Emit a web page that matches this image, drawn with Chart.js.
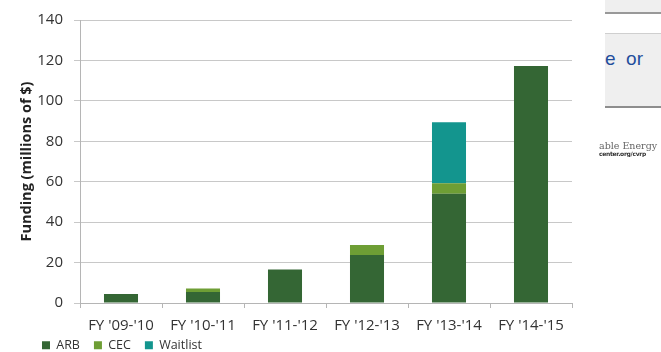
<!DOCTYPE html>
<html>
<head>
<meta charset="utf-8">
<script src="https://cdn.jsdelivr.net/npm/chart.js@4/dist/chart.umd.min.js"></script>
<style>
  html, body { margin: 0; padding: 0; background: #fff; }
  #wrap { position: relative; width: 661px; height: 352px; overflow: hidden; }
  #chartBox { position: absolute; left: 0; top: 0; width: 600px; height: 352px; }
  .panel { position: absolute; left: 605px; width: 56px; background: #efefef; overflow: hidden; }
  #p1 { top: 0; height: 12px; border-bottom: 2px solid #999; }
  #p2 { top: 33px; height: 72px; border-top: 1px solid #cfcfcf; border-bottom: 2px solid #8e8e8e; }
  #p2 span { position: absolute; left: 0; top: 14px; font: 19px "Liberation Sans", Arial, sans-serif; color: #1f4e9c; white-space: nowrap; }
  .note { position: absolute; left: 599px; width: 62px; overflow: hidden; white-space: nowrap; }
  #n1 { top: 140px; font: 9.5px "DejaVu Serif", serif; color: #666; }
  #n2 { top: 150px; font: bold 6px "DejaVu Sans", sans-serif; color: #333; letter-spacing: -0.3px; }
</style>
</head>
<body>
<div id="wrap">
  <div id="chartBox"><canvas id="c"></canvas></div>
  <div class="panel" id="p1"></div>
  <div class="panel" id="p2"><span>e&nbsp; or</span></div>
  <div class="note" id="n1">able Energy</div>
  <div class="note" id="n2">center.org/cvrp</div>
</div>
<script>
// Funding per fiscal year, millions of dollars
const categories = ["FY '09-'10", "FY '10-'11", "FY '11-'12", "FY '12-'13", "FY '13-'14", "FY '14-'15"];
const arb      = [4.4, 5.4, 16.6, 23.8, 54.0, 117.3];
const cec      = [0,   1.8, 0,    4.9,  5.3,  0];
const waitlist = [0,   0,   0,    0,    30.1, 0];
const yTicks   = [0, 20, 40, 60, 80, 100, 120, 140];

const font = '"Open Sans", "Noto Sans", sans-serif';

// Place the legend row under the axis labels, indented from the left edge
const legendPlacer = {
  id: 'legendPlacer',
  afterLayout(chart) {
    const lg = chart.legend;
    const h = lg.bottom - lg.top;
    const w = lg.right - lg.left;
    lg.left = 28; lg.right = lg.left + w;
    lg.top = 325; lg.bottom = lg.top + h;
  }
};

new Chart(document.getElementById('c'), {
  type: 'bar',
  data: {
    labels: categories,
    datasets: [
      { label: 'ARB', data: arb, backgroundColor: '#346634' },
      { label: 'CEC', data: cec, backgroundColor: '#6e9e35' },
      { label: 'Waitlist', data: waitlist, backgroundColor: '#13958e' }
    ]
  },
  plugins: [legendPlacer],
  options: {
    responsive: true,
    maintainAspectRatio: false,
    animation: false,
    datasets: { bar: { categoryPercentage: 1, barPercentage: 0.415 } },
    layout: { padding: { left: 0, right: 28, top: 19, bottom: -19.5 } },
    plugins: {
      tooltip: { enabled: false },
      legend: {
        position: 'bottom',
        align: 'start',
        labels: {
          boxWidth: 8, boxHeight: 8, padding: 14,
          color: '#333', font: { family: font, size: 12.5 }
        }
      }
    },
    scales: {
      x: {
        stacked: true,
        offset: true,
        afterFit: (s) => { s.height = 32; },
        grid: { offset: true, drawOnChartArea: false, color: '#b5b5b5', tickLength: 5 },
        border: { color: '#b5b5b5' },
        ticks: { color: '#333', padding: 9, maxRotation: 0, font: { family: font, size: 15 } }
      },
      y: {
        stacked: true,
        min: 0, max: 140,
        afterFit: (s) => { s.width = 80; },
        afterBuildTicks: (s) => { s.ticks = yTicks.map(v => ({ value: v })); },
        grid: { color: '#c8c8c8', tickLength: 6 },
        border: { color: '#b5b5b5' },
        ticks: { color: '#333', padding: 11, font: { family: font, size: 15 } },
        title: {
          display: true, text: 'Funding (millions of $)', color: '#222',
          padding: { top: 18, bottom: 0 },
          font: { family: font, size: 14.5, weight: 'bold' }
        }
      }
    }
  }
});
</script>
</body>
</html>
